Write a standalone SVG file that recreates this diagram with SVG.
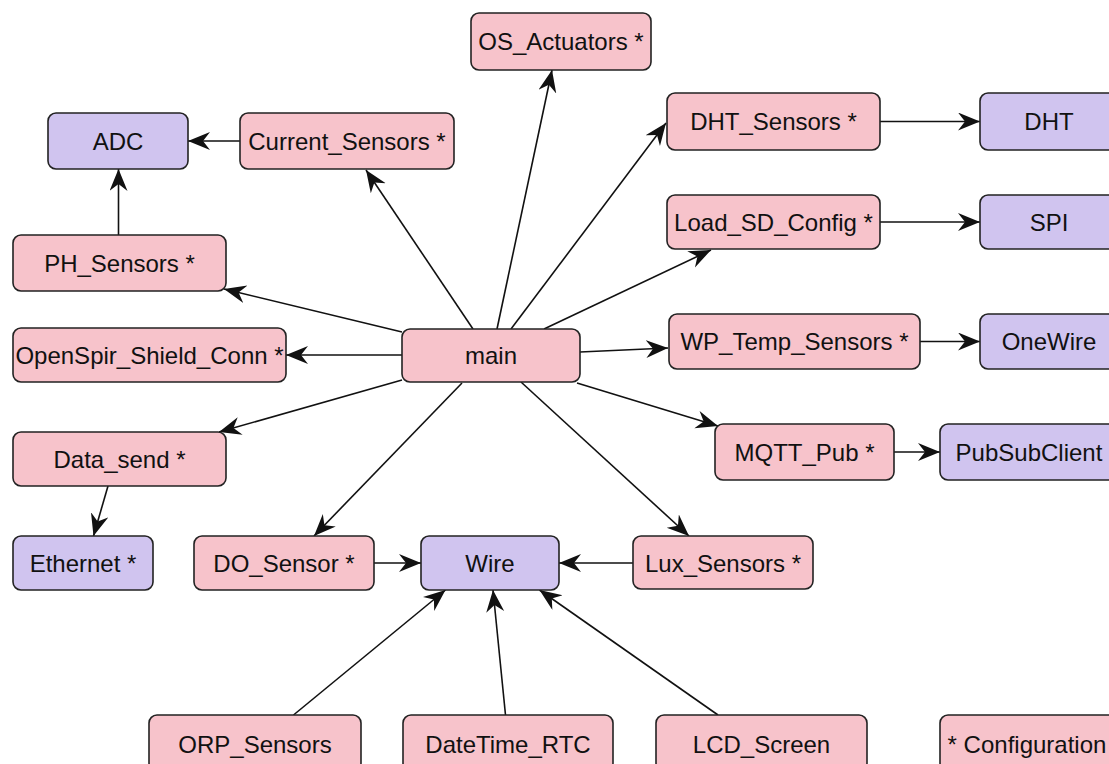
<svg xmlns="http://www.w3.org/2000/svg" width="1109" height="764" viewBox="0 0 1109 764">
<defs>
<style>
.n rect{stroke:#222;stroke-width:1.6}
.p rect{fill:#f7c3cb}
.u rect{fill:#d0c4ef}
text{font-family:"Liberation Sans",Arial,sans-serif;font-size:24px;fill:#111;text-anchor:middle}
.e line{stroke:#111;stroke-width:1.6;marker-end:url(#a)}
</style>
<marker id="a" markerUnits="userSpaceOnUse" markerWidth="24" markerHeight="20" refX="22" refY="9" orient="auto" viewBox="0 0 24 20">
<path d="M0,0 L22,9 L0,18 L7,9 Z" fill="#111"/>
</marker>
</defs>
<rect width="1109" height="764" fill="#fff"/>
<g class="e" id="edges">
<line x1="240" y1="141" x2="188" y2="141"/>
<line x1="118.5" y1="235" x2="118.5" y2="169"/>
<line x1="402" y1="332" x2="224" y2="289"/>
<line x1="473" y1="329" x2="366" y2="170"/>
<line x1="497" y1="329" x2="552" y2="70"/>
<line x1="511" y1="329" x2="666" y2="123"/>
<line x1="544" y1="329" x2="711" y2="250"/>
<line x1="402" y1="355" x2="286" y2="355"/>
<line x1="580" y1="352" x2="668" y2="348"/>
<line x1="577" y1="383" x2="718" y2="426"/>
<line x1="521" y1="382" x2="689" y2="536"/>
<line x1="402" y1="380" x2="219" y2="432"/>
<line x1="462" y1="383" x2="314" y2="536"/>
<line x1="108" y1="486" x2="93.5" y2="536"/>
<line x1="374" y1="563" x2="421" y2="563"/>
<line x1="633" y1="563" x2="559" y2="563"/>
<line x1="880" y1="121.5" x2="980" y2="121.5"/>
<line x1="880" y1="222" x2="980" y2="222"/>
<line x1="920" y1="341.5" x2="980" y2="341.5"/>
<line x1="894" y1="452" x2="940" y2="452"/>
<line x1="293.5" y1="715" x2="445.5" y2="590"/>
<line x1="505.5" y1="715" x2="493" y2="590"/>
<line x1="718" y1="715" x2="539.5" y2="590"/>
</g>
<g id="ADC" class="n u"><rect x="48" y="113" width="140" height="56" rx="8"/><text x="118" y="149.5">ADC</text></g>
<g id="Current_Sensors" class="n p"><rect x="240" y="113" width="214" height="56" rx="8"/><text x="347" y="149.5">Current_Sensors *</text></g>
<g id="OS_Actuators" class="n p"><rect x="471" y="13" width="180" height="57" rx="8"/><text x="561" y="50">OS_Actuators *</text></g>
<g id="DHT_Sensors" class="n p"><rect x="667" y="93" width="213" height="57" rx="8"/><text x="773.5" y="130">DHT_Sensors *</text></g>
<g id="DHT" class="n u"><rect x="980" y="93" width="140" height="57" rx="8"/><text x="1049" y="130">DHT</text></g>
<g id="Load_SD_Config" class="n p"><rect x="667" y="195" width="213" height="54" rx="8"/><text x="773.5" y="230.5">Load_SD_Config *</text></g>
<g id="SPI" class="n u"><rect x="980" y="195" width="140" height="54" rx="8"/><text x="1049" y="230.5">SPI</text></g>
<g id="PH_Sensors" class="n p"><rect x="13" y="235" width="213" height="56" rx="8"/><text x="119.5" y="271.5">PH_Sensors *</text></g>
<g id="OpenSpir_Shield_Conn" class="n p"><rect x="13" y="328" width="273" height="54" rx="8"/><text x="149.5" y="363.5">OpenSpir_Shield_Conn *</text></g>
<g id="main" class="n p"><rect x="402" y="329" width="178" height="53" rx="8"/><text x="491" y="364">main</text></g>
<g id="WP_Temp_Sensors" class="n p"><rect x="669" y="314" width="251" height="55" rx="8"/><text x="794.5" y="350">WP_Temp_Sensors *</text></g>
<g id="OneWire" class="n u"><rect x="980" y="314" width="140" height="55" rx="8"/><text x="1049" y="350">OneWire</text></g>
<g id="MQTT_Pub" class="n p"><rect x="715" y="424" width="179" height="56" rx="8"/><text x="804.5" y="460.5">MQTT_Pub *</text></g>
<g id="PubSubClient" class="n u"><rect x="940" y="424" width="180" height="56" rx="8"/><text x="1029" y="460.5">PubSubClient</text></g>
<g id="Data_send" class="n p"><rect x="13" y="432" width="213" height="54" rx="8"/><text x="119.5" y="467.5">Data_send *</text></g>
<g id="Ethernet" class="n u"><rect x="13" y="536" width="140" height="54" rx="8"/><text x="83" y="571.5">Ethernet *</text></g>
<g id="DO_Sensor" class="n p"><rect x="194" y="536" width="180" height="54" rx="8"/><text x="284" y="571.5">DO_Sensor *</text></g>
<g id="Wire" class="n u"><rect x="421" y="536" width="138" height="54" rx="8"/><text x="490" y="571.5">Wire</text></g>
<g id="Lux_Sensors" class="n p"><rect x="633" y="536" width="180" height="53" rx="8"/><text x="723" y="571.5">Lux_Sensors *</text></g>
<g id="ORP_Sensors" class="n p"><rect x="149" y="715" width="212" height="56" rx="8"/><text x="255" y="753">ORP_Sensors</text></g>
<g id="DateTime_RTC" class="n p"><rect x="403" y="715" width="210" height="56" rx="8"/><text x="508" y="753">DateTime_RTC</text></g>
<g id="LCD_Screen" class="n p"><rect x="656" y="715" width="211" height="56" rx="8"/><text x="761.5" y="753">LCD_Screen</text></g>
<g id="Configuration" class="n p"><rect x="940" y="715" width="180" height="56" rx="8"/><text x="1027" y="753">* Configuration</text></g>
</svg>
